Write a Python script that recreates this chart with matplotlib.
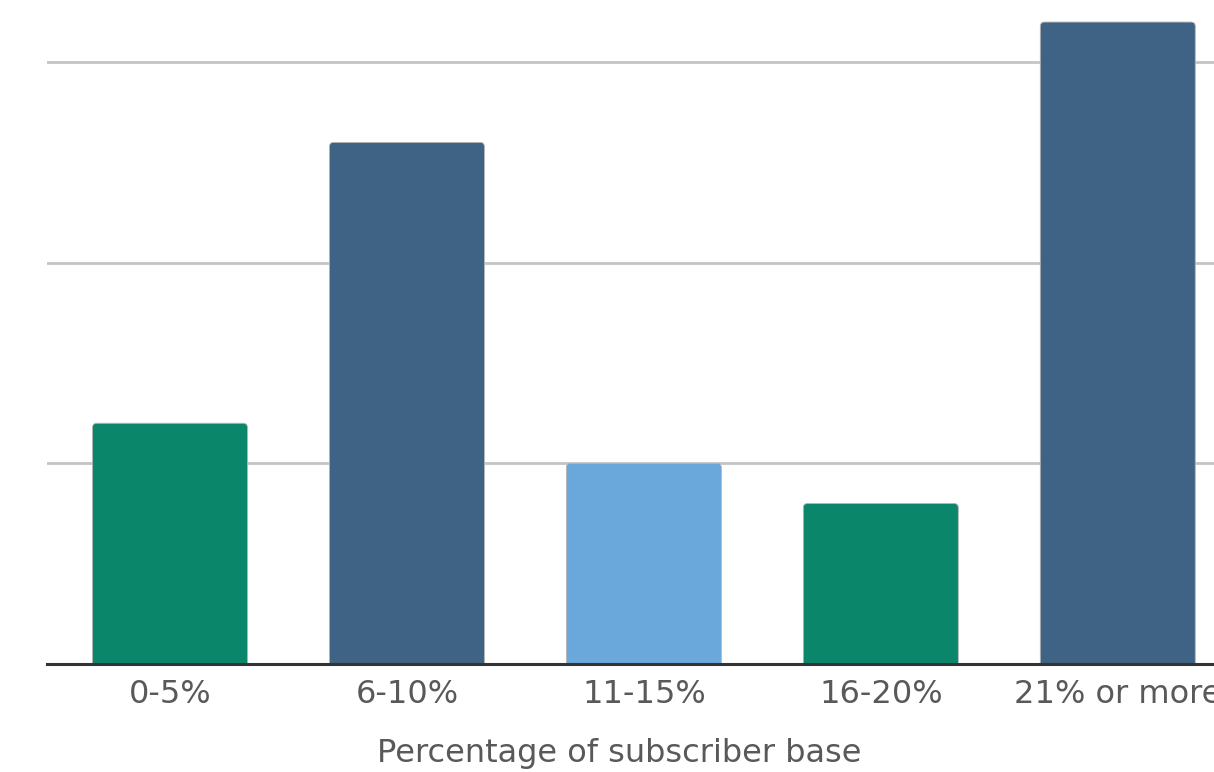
import numpy as np
import matplotlib.pyplot as plt
from matplotlib.patches import FancyBboxPatch

categories = ['0-5%', '6-10%', '11-15%', '16-20%', '21% or more']
values = [6, 13, 5, 4, 16]
colors = ['#0a866b', '#3f6384', '#6aa7da', '#0a866b', '#3f6384']
grid_levels = [5, 10, 15]

plt.rcParams['font.family'] = ['DejaVu Sans']

fig = plt.figure(figsize=(12.14, 7.72), dpi=100)
# axes run past the right edge of the figure, so the last label gets clipped
ax = fig.add_axes([47 / 1214, 108 / 772, 1194 / 1214, 658 / 772])

x = np.arange(len(categories))
bars = ax.bar(x, values, width=0.654, color=colors, zorder=3)

# swap the plain rectangles for ones with slightly rounded tops;
# the bottom corners sit below zero and get clipped by the axes
for rect, c in zip(bars, colors):
    rect.set_visible(False)
    ax.add_patch(FancyBboxPatch((rect.get_x(), -1), rect.get_width(),
                                rect.get_height() + 1,
                                boxstyle='round,pad=0,rounding_size=0.018',
                                mutation_aspect=5.9, facecolor=c,
                                edgecolor='#b5b5b5', linewidth=0.6,
                                zorder=3))

for g in grid_levels:
    ax.axhline(g, color='#c4c4c4', linewidth=2.0, zorder=1)

ax.set_xlim(-0.519, 4.52)
ax.set_ylim(0, 16.4)

ax.set_xticks(x)
ax.set_xticklabels(categories, fontsize=23, color='#595959')
ax.tick_params(axis='x', length=0, pad=11)
ax.set_yticks([])

for side in ['top', 'right', 'left']:
    ax.spines[side].set_visible(False)
ax.spines['bottom'].set_color('#333333')
ax.spines['bottom'].set_linewidth(2.2)
ax.spines['bottom'].set_zorder(4)

ax.set_xlabel('Percentage of subscriber base', fontsize=23, color='#595959')
ax.xaxis.set_label_coords(0.479, -0.112)

fig.savefig('out.png', dpi=100)
